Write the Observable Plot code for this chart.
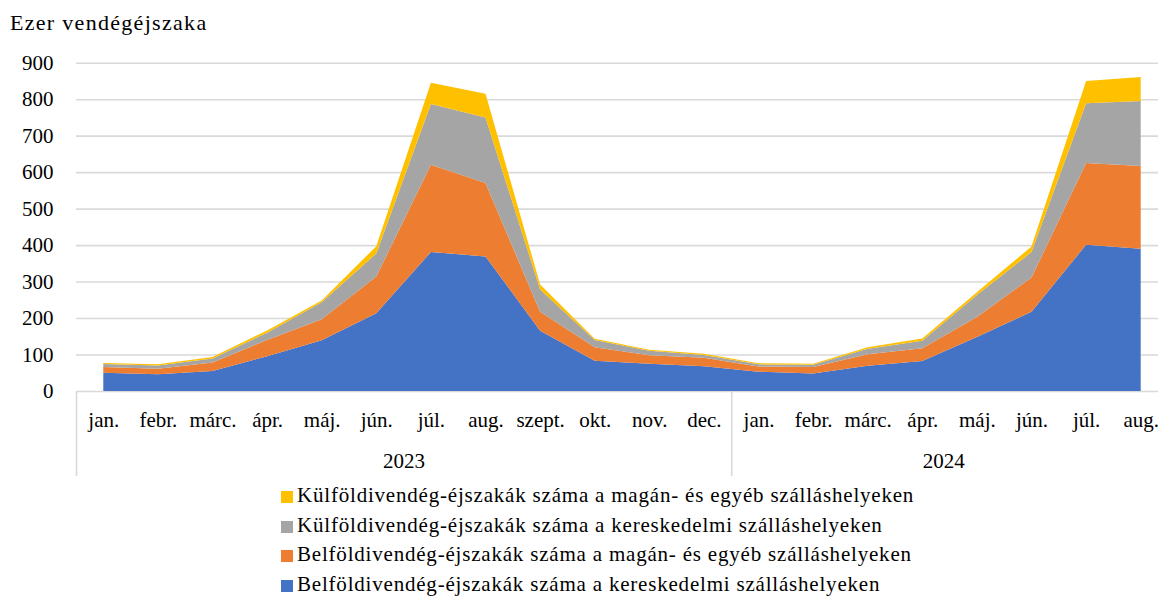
<!DOCTYPE html>
<html>
<head>
<meta charset="utf-8">
<script src="https://cdn.jsdelivr.net/npm/d3@7"></script>
<script src="https://cdn.jsdelivr.net/npm/@observablehq/plot@0.6"></script>
<style>
  html, body { margin: 0; padding: 0; background: #fff; }
  #wrap { position: relative; width: 1158px; height: 596px; overflow: hidden; font-family: "Liberation Serif", "Times New Roman", Times, "DejaVu Serif", serif; color: #000; }
  #title { position: absolute; left: 10px; top: 12px; font-size: 22px; line-height: 22px; letter-spacing: 1.3px; white-space: nowrap; }
  #chart { position: absolute; left: 0; top: 0; }
  #legend { position: absolute; left: 281px; top: 481px; font-size: 21px; }
  .row { height: 29.7px; line-height: 29.7px; white-space: nowrap; letter-spacing: 0.8px; }
  .sw { display: inline-block; width: 12px; height: 12px; margin-right: 4px; vertical-align: -1px; }
</style>
</head>
<body>
<div id="wrap">
  <div id="chart"></div>
  <div id="title"></div>
  <div id="legend"></div>
</div>
<script>
const titleText = "Ezer vendégéjszaka";
const years = ["2023", "2024"];
const months2023 = ["jan.", "febr.", "márc.", "ápr.", "máj.", "jún.", "júl.", "aug.", "szept.", "okt.", "nov.", "dec."];
const months2024 = ["jan.", "febr.", "márc.", "ápr.", "máj.", "jún.", "júl.", "aug."];

// series values, thousand guest nights (stacked bottom to top)
const belfKereskedelmi = [50, 46, 55, 95, 139, 213, 381, 369, 165, 83, 75, 68, 53, 48, 69, 82, 148, 217, 401, 390];
const belfMagan        = [16, 15, 23, 45, 58, 101, 239, 201, 52, 37, 23, 23, 14, 18, 32, 35, 55, 94, 224, 227];
const kulfKereskedelmi = [8, 9, 11, 20, 46, 63, 167, 180, 61, 20, 12, 8, 6, 6, 15, 21, 60, 70, 164, 178];
const kulfMagan        = [3, 3, 4, 6, 5, 20, 58, 65, 14, 3, 3, 3, 3, 3, 4, 6, 8, 15, 61, 66];

const seriesNames = [
  "Belföldivendég-éjszakák száma a kereskedelmi szálláshelyeken",
  "Belföldivendég-éjszakák száma a magán- és egyéb szálláshelyeken",
  "Külföldivendég-éjszakák száma a kereskedelmi szálláshelyeken",
  "Külföldivendég-éjszakák száma a magán- és egyéb szálláshelyeken"
];
const seriesColors = ["#4472C4", "#ED7D31", "#A5A5A5", "#FFC000"];
const seriesValues = [belfKereskedelmi, belfMagan, kulfKereskedelmi, kulfMagan];
const yTicks = [0, 100, 200, 300, 400, 500, 600, 700, 800, 900];

const keys = [
  ...months2023.map(m => years[0] + "|" + m),
  ...months2024.map(m => years[1] + "|" + m)
];

const data = [];
seriesNames.forEach((name, s) => {
  keys.forEach((k, i) => data.push({key: k, series: name, value: seriesValues[s][i]}));
});

const dividers = [keys[0], keys[months2023.length]];
const yearLabels = [
  {key: years[0] + "|" + months2023[5], text: years[0]},
  {key: years[1] + "|" + months2024[3], text: years[1]}
];
const fontStack = "'Liberation Serif', 'Times New Roman', Times, 'DejaVu Serif', serif";

const plot = Plot.plot({
  width: 1158,
  height: 480,
  marginLeft: 76,
  marginRight: -10,
  marginTop: 62.7,
  marginBottom: 89,
  x: {type: "point", domain: keys, padding: 0.5, round: false, label: null},
  y: {domain: [0, 900], label: null},
  color: {domain: seriesNames, range: seriesColors},
  style: {fontFamily: fontStack, fontSize: "21px", color: "#000", background: "transparent", overflow: "visible"},
  marks: [
    Plot.ruleY(yTicks, {stroke: "#d9d9d9", strokeWidth: 1.6}),
    Plot.areaY(data, {x: "key", y: "value", z: "series", fill: "series", order: seriesNames}),
    Plot.axisY(yTicks, {tickSize: 0, tickPadding: 23, fontSize: 21, fill: "#000", label: null}),
    Plot.axisX({tickSize: 0, tickPadding: 21, fontSize: 21, fill: "#000", label: null, tickFormat: k => k.split("|")[1]}),
    Plot.ruleX(dividers, {y1: 0, y2: 0, insetBottom: -85, dx: -27.3, stroke: "#d9d9d9", strokeWidth: 1.6}),
    Plot.text(yearLabels.slice(0, 1), {x: "key", text: "text", frameAnchor: "bottom", dy: 76, dx: 27.3, fontSize: 21, fill: "#000"}),
    Plot.text(yearLabels.slice(1), {x: "key", text: "text", frameAnchor: "bottom", dy: 76, dx: 21, fontSize: 21, fill: "#000"})
  ]
});
document.getElementById("chart").appendChild(plot);
document.getElementById("title").textContent = titleText;

const legend = document.getElementById("legend");
[3, 2, 1, 0].forEach(i => {
  const row = document.createElement("div");
  row.className = "row";
  const sw = document.createElement("span");
  sw.className = "sw";
  sw.style.background = seriesColors[i];
  row.appendChild(sw);
  row.appendChild(document.createTextNode(seriesNames[i]));
  legend.appendChild(row);
});
</script>
</body>
</html>
